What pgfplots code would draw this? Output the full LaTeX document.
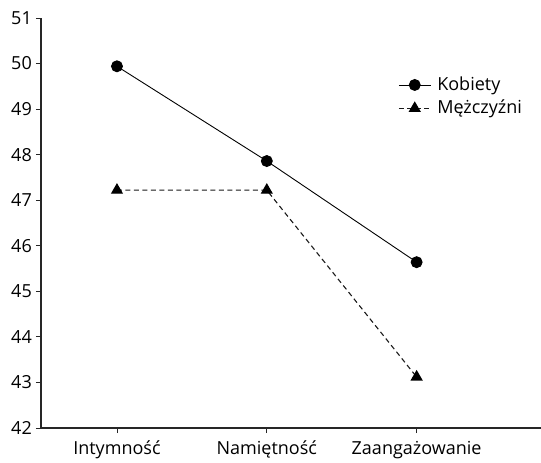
\documentclass[border=0pt]{standalone}
\usepackage{pgfplots}
\pgfplotsset{compat=1.18}
\usepackage{fontspec}
\setmainfont{Open Sans}
\begin{document}
\fontsize{18bp}{21bp}\selectfont
\begin{tikzpicture}
\useasboundingbox (0,0) rectangle (541bp,463bp);
\begin{axis}[
  at={(41bp,35bp)}, anchor=south west,
  scale only axis, width=500bp, height=410bp,
  xmin=-0.507, xmax=2.83, ymin=42, ymax=51,
  axis x line=bottom, axis y line=left,
  axis line style={-, line width=1.1pt, black!85},
  xtick={0,1,2}, xticklabels={Intymność,Namiętność,Zaangażowanie},
  ytick={42,...,51},
  tick align=outside, major tick length=5bp,
  tick style={black!85, line width=0.9pt},
  /pgf/number format/assume math mode=true,
  ticklabel style={font=\fontsize{18bp}{21bp}\selectfont},
  yticklabel style={xshift=2bp},
  xticklabel style={yshift=-2bp},
  legend style={draw=none, fill=none, at={(0.714,0.862)}, anchor=north west,
    font=\fontsize{18bp}{21bp}\selectfont, row sep=3bp, column sep=4bp, inner sep=0pt},
  legend cell align=left,
  legend image code/.code={
    \draw[#1] (0bp,0bp) -- (32bp,0bp);
    \draw[#1, solid] plot coordinates {(16bp,0bp)};
  },
]
\addplot[black, line width=0.9pt, mark=*, mark size=5.5bp, mark options={solid}]
  coordinates {(0,49.94) (1,47.86) (2,45.64)};
\addlegendentry{Kobiety}
\addplot[black!90, line width=1.1pt, dash pattern=on 5bp off 3.5bp, mark=triangle*, mark size=6bp, mark options={solid, fill=black, draw=black}]
  coordinates {(0,47.22) (1,47.22) (2,43.12)};
\addlegendentry{Mężczyźni}
\end{axis}
\end{tikzpicture}
\end{document}
